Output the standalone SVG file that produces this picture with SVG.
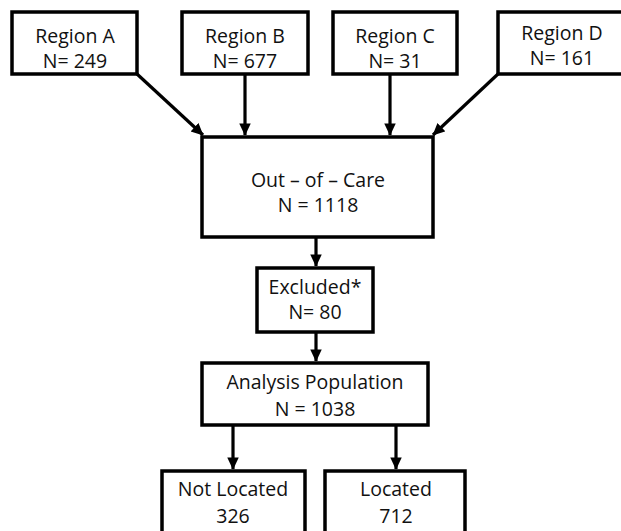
<svg xmlns="http://www.w3.org/2000/svg" width="621" height="531" viewBox="0 0 621 531">
<style>
.box{fill:#fff;stroke:#000;stroke-width:3.5}
.t{font-family:"Open Sans","Liberation Sans",sans-serif;font-size:19.5px;fill:#111;text-anchor:middle}
.c{stroke:#000;stroke-width:3.2;fill:none;marker-end:url(#ah)}
</style>
<defs>
<marker id="ah" markerWidth="5" markerHeight="5" refX="3.6" refY="2" orient="auto" markerUnits="strokeWidth">
<path d="M0,0.2 L3.8,2 L0,3.8 Z" fill="#000"/>
</marker>
</defs>
<rect width="621" height="531" fill="#fff"/>
<g id="connectors">
<line class="c" x1="137" y1="74" x2="203" y2="135"/>
<line class="c" x1="245" y1="74" x2="245" y2="135"/>
<line class="c" x1="390" y1="74" x2="390" y2="135"/>
<line class="c" x1="498" y1="74" x2="433" y2="135"/>
<line class="c" x1="316" y1="237" x2="316" y2="266"/>
<line class="c" x1="316" y1="332" x2="316" y2="361"/>
<line class="c" x1="233" y1="425" x2="233" y2="469"/>
<line class="c" x1="396" y1="425" x2="396" y2="469"/>
</g>
<g id="regionA"><rect class="box" x="12" y="12" width="125" height="62"/><text class="t" x="75" y="43">Region A</text><text class="t" x="75" y="68">N= 249</text></g>
<g id="regionB"><rect class="box" x="182" y="12" width="126" height="62"/><text class="t" x="245" y="43">Region B</text><text class="t" x="245" y="68">N= 677</text></g>
<g id="regionC"><rect class="box" x="333" y="12" width="124" height="62"/><text class="t" x="395" y="43">Region C</text><text class="t" x="395" y="68">N= 31</text></g>
<g id="regionD"><rect class="box" x="498" y="12" width="128" height="62"/><text class="t" x="562" y="40">Region D</text><text class="t" x="562" y="65">N= 161</text></g>
<g id="outOfCare"><rect class="box" x="202" y="137" width="231" height="100"/><text class="t" x="318" y="187">Out – of – Care</text><text class="t" x="318" y="212">N = 1118</text></g>
<g id="excluded"><rect class="box" x="257" y="268" width="116" height="64"/><text class="t" x="315" y="294">Excluded*</text><text class="t" x="315" y="319">N= 80</text></g>
<g id="analysis"><rect class="box" x="202" y="363" width="226" height="62"/><text class="t" x="315" y="389">Analysis Population</text><text class="t" x="315" y="416">N = 1038</text></g>
<g id="notLocated"><rect class="box" x="162" y="471" width="143" height="70"/><text class="t" x="233" y="496">Not Located</text><text class="t" x="233" y="523">326</text></g>
<g id="located"><rect class="box" x="325" y="471" width="140" height="70"/><text class="t" x="396" y="496">Located</text><text class="t" x="396" y="523">712</text></g>
</svg>
